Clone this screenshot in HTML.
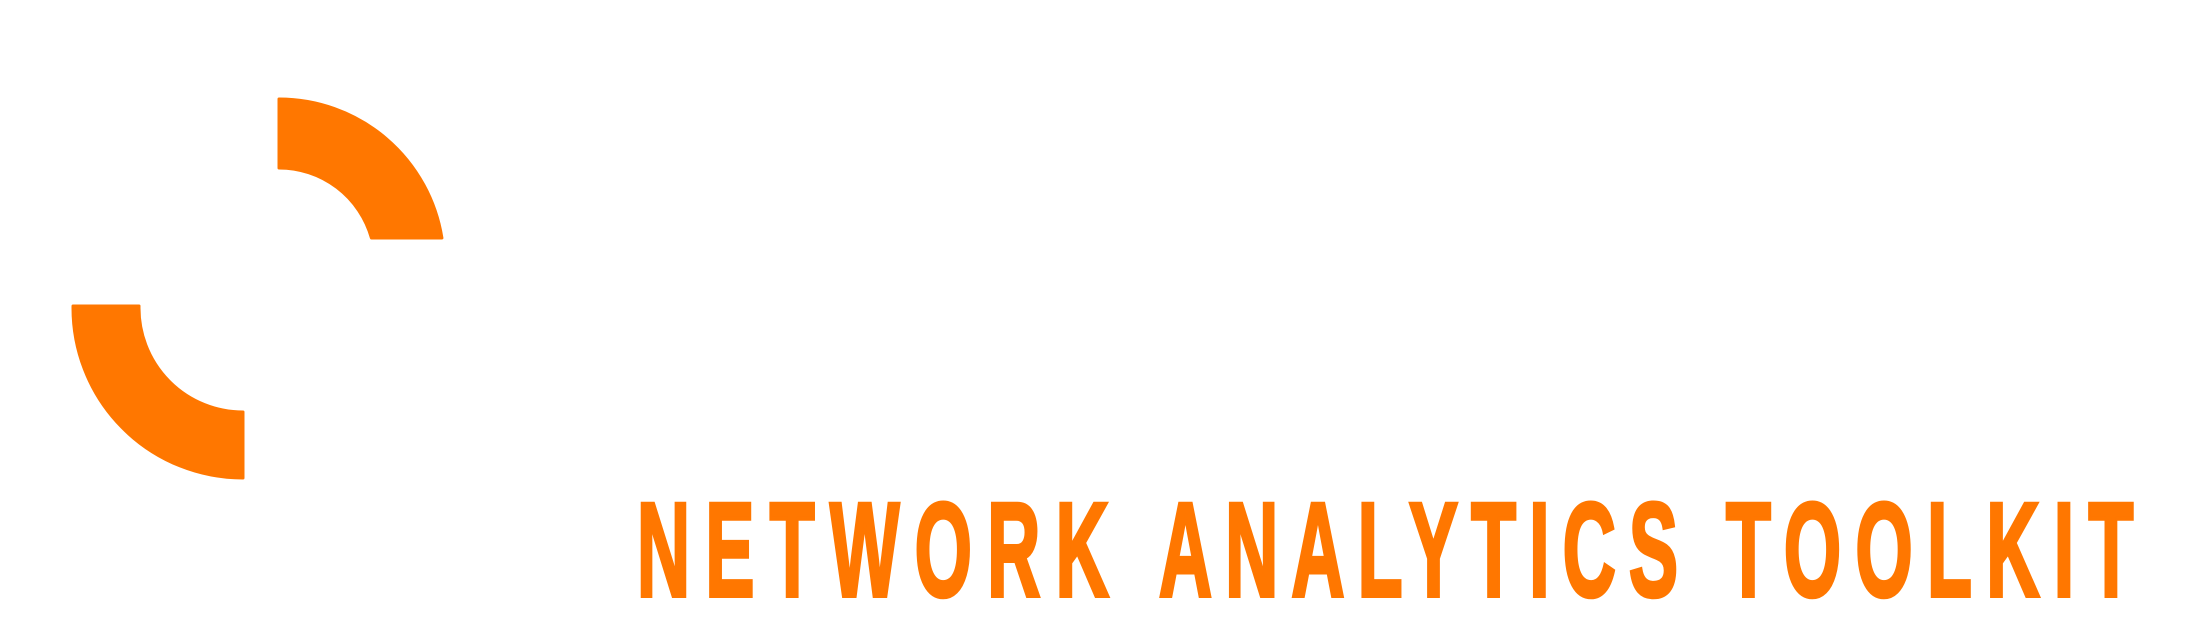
<!DOCTYPE html>
<html>
<head>
<meta charset="utf-8">
<style>
  html,body{margin:0;padding:0;background:#ffffff;}
  svg{display:block;}
</style>
</head>
<body>
<svg width="2198" height="621" viewBox="0 0 2198 621" xmlns="http://www.w3.org/2000/svg">
  <rect width="2198" height="621" fill="#ffffff"/>
  <path id="arc-top" fill="#FF7700" stroke="#FF7700" stroke-width="3" stroke-linejoin="round"/>
  <path id="arc-bottom" fill="#FF7700" stroke="#FF7700" stroke-width="3" stroke-linejoin="round"/>
  <g font-family="'Liberation Sans', sans-serif" font-weight="bold" font-size="134" fill="#FF7700" stroke="#FF7700" stroke-width="4" stroke-linejoin="miter" transform="scale(0.55,1)">
    <text x="1158" y="596" textLength="858" lengthAdjust="spacing">NETWORK</text>
    <text x="2107" y="596" textLength="944" lengthAdjust="spacing">ANALYTICS</text>
    <text x="3138" y="596" textLength="741" lengthAdjust="spacing">TOOLKIT</text>
  </g>
</svg>
<script>
(function(){
  const cx=279, cy=264, r=96, R=165, cutY=238;
  const dy=cy-cutY;
  const ox=cx+Math.sqrt(R*R-dy*dy), ix=cx+Math.sqrt(r*r-dy*dy);
  const d=`M${cx},${cy-R} A${R},${R} 0 0 1 ${ox},${cutY} L${ix},${cutY} A${r},${r} 0 0 0 ${cx},${cy-r} Z`;
  document.getElementById('arc-top').setAttribute('d', d);
})();
(function(){
  const cx=243, cy=308, r=104, R=170, cutY=306;
  const dy=cy-cutY;
  const ox=cx-Math.sqrt(R*R-dy*dy), ix=cx-Math.sqrt(r*r-dy*dy);
  const d=`M${ox},${cutY} A${R},${R} 0 0 0 ${cx},${cy+R} L${cx},${cy+r} A${r},${r} 0 0 1 ${ix},${cutY} Z`;
  document.getElementById('arc-bottom').setAttribute('d', d);
})();
</script>
</body>
</html>
